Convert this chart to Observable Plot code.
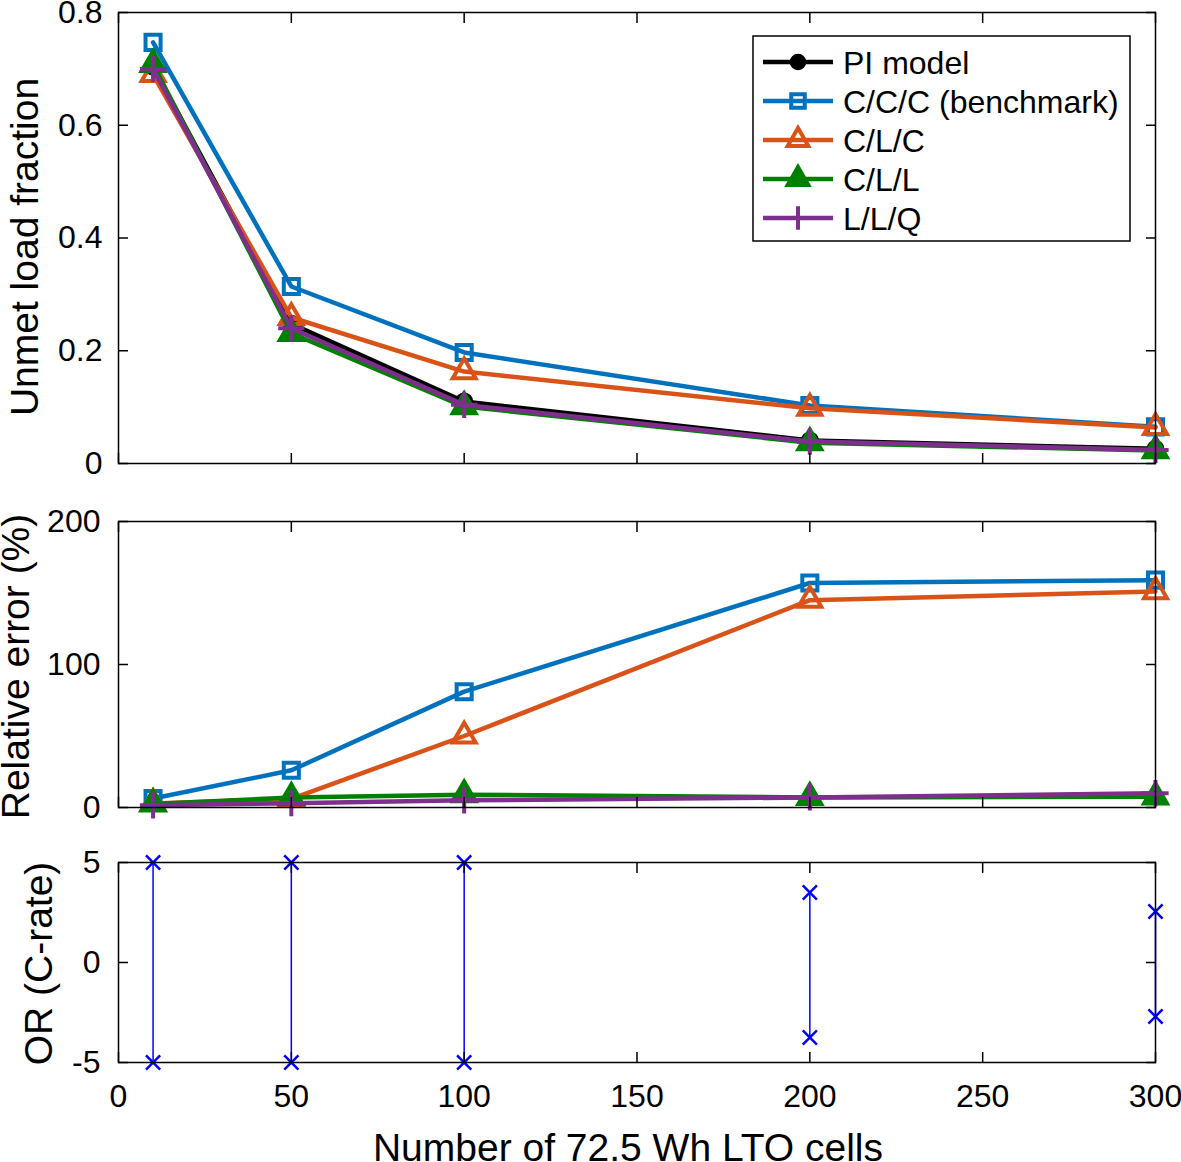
<!DOCTYPE html>
<html><head><meta charset="utf-8">
<script src="https://cdn.jsdelivr.net/npm/d3@7"></script>
<script src="https://cdn.jsdelivr.net/npm/@observablehq/plot@0.6"></script>
<style>
body{margin:0;background:#fff;font-family:"Liberation Sans",Arial,Helvetica,sans-serif;}
#wrap{position:relative;width:1181px;height:1162px;overflow:hidden;background:#fff;}
#wrap > svg{position:absolute;left:0;}
</style></head><body><div id="wrap"></div>
<script>
// ---- data ----
const cells = [10, 50, 100, 200, 300];
const seriesNames = ["PI model", "C/C/C (benchmark)", "C/L/C", "C/L/L", "L/L/Q"];
const unmetPI  = [0.704, 0.248, 0.110, 0.041, 0.026];
const unmetCCC = [0.747, 0.314, 0.197, 0.103, 0.065];
const unmetCLC = [0.690, 0.259, 0.163, 0.098, 0.064];
const unmetCLL = [0.708, 0.231, 0.101, 0.037, 0.023];
const unmetLLQ = [0.700, 0.240, 0.104, 0.039, 0.024];
const errCCC = [6.3, 26, 81, 157, 159];
const errCLC = [2.8, 6, 50, 145, 151];
const errCLL = [2.5, 7, 9, 7, 7.5];
const errLLQ = [1.5, 3, 5, 7, 10];
const orMax = [5, 5, 5, 3.5, 2.55];
const orMin = [-5, -5, -5, -3.75, -2.7];
const xTicks = [0, 50, 100, 150, 200, 250, 300];
const yTicks1 = [0, 0.2, 0.4, 0.6, 0.8];
const yTicks2 = [0, 100, 200];
const yTicks3 = [-5, 0, 5];
const xTitle = "Number of 72.5 Wh LTO cells";
const yTitles = ["Unmet load fraction", "Relative error (%)", "OR (C-rate)"];

// ---- styles ----
const styles = {
  "PI model":          {color: "#000000", symbol: "circle",   filled: true,  r: 7},
  "C/C/C (benchmark)": {color: "#0072BD", symbol: "square",   filled: false, r: 8.5},
  "C/L/C":             {color: "#D95319", symbol: "triangle", filled: false, r: 8.5},
  "C/L/L":             {color: "#008000", symbol: "triangle", filled: true,  r: 8.5},
  "L/L/Q":             {color: "#7E2F8E", symbol: "plus",     filled: false, r: 8.5}
};
const FONT = '"Liberation Sans", Arial, Helvetica, sans-serif';
const LW = 4.5;

function rows(ys) { return cells.map((x, i) => ({x, y: ys[i]})); }

function seriesMarks(name, ys) {
  const s = styles[name];
  const data = rows(ys);
  return [
    Plot.line(data, {x: "x", y: "y", stroke: s.color, strokeWidth: LW}),
    Plot.dot(data, {x: "x", y: "y", symbol: s.symbol, r: s.r,
      fill: s.filled ? s.color : "none",
      stroke: s.color, strokeWidth: 4})
  ];
}

function panel({height, marginTop, marginBottom, yDomain, yTicks, yLabel, labelOffset, labelDy, tickPadding, showX, marks}) {
  const fmt = d => String(d);
  const blank = () => "";
  return Plot.plot({
    width: 1181, height, marginLeft: 118, marginRight: 26, marginTop, marginBottom,
    style: {fontFamily: FONT, fontSize: "32px", color: "#000", background: "transparent", overflow: "visible"},
    x: {domain: [0, 300]},
    y: {domain: yDomain},
    marks: [
      ...marks,
      Plot.frame({stroke: "#000", strokeWidth: 1.5}),
      Plot.axisY(yTicks, {anchor: "left", tickSize: 0, tickPadding, tickFormat: fmt, fontSize: 32, label: null}),
      Plot.axisY(yTicks, {anchor: "left", tickSize: -10, tickFormat: blank, label: null, strokeWidth: 1.5}),
      Plot.axisY(yTicks, {anchor: "right", tickSize: -10, tickFormat: blank, label: null, strokeWidth: 1.5}),
      Plot.axisX(xTicks, {anchor: "top", tickSize: -10, tickFormat: blank, label: null, strokeWidth: 1.5}),
      Plot.axisX(xTicks, {anchor: "bottom", tickSize: -10, tickFormat: blank, label: null, strokeWidth: 1.5}),
      Plot.text([yLabel], {frameAnchor: "left", rotate: -90, dx: -labelOffset, dy: labelDy,
        textAnchor: "middle", lineAnchor: "top", fontSize: 39, fill: "#000"}),
      showX ? Plot.axisX(xTicks, {anchor: "bottom", tickSize: 0, tickPadding: 22, tickFormat: fmt, fontSize: 32, label: null}) : null,
      showX ? Plot.text([xTitle], {frameAnchor: "bottom", dy: 98, dx: -9, lineAnchor: "bottom",
        textAnchor: "middle", fontSize: 39, fill: "#000"}) : null
    ]
  });
}

const wrap = document.getElementById("wrap");

const p1 = panel({
  height: 480, marginTop: 12, marginBottom: 17, yDomain: [0, 0.8], yTicks: yTicks1,
  yLabel: yTitles[0], labelOffset: 108, labelDy: 9, tickPadding: 16, showX: false,
  marks: [
    ...seriesMarks("PI model", unmetPI),
    ...seriesMarks("C/C/C (benchmark)", unmetCCC),
    ...seriesMarks("C/L/C", unmetCLC),
    ...seriesMarks("C/L/L", unmetCLL),
    ...seriesMarks("L/L/Q", unmetLLQ)
  ]
});
p1.style.top = "0px";
wrap.appendChild(p1);

const p2 = panel({
  height: 340, marginTop: 41, marginBottom: 13, yDomain: [0, 200], yTicks: yTicks2,
  yLabel: yTitles[1], labelOffset: 117, labelDy: 2, tickPadding: 18, showX: false,
  marks: [
    ...seriesMarks("C/C/C (benchmark)", errCCC),
    ...seriesMarks("C/L/C", errCLC),
    ...seriesMarks("C/L/L", errCLL),
    ...seriesMarks("L/L/Q", errLLQ)
  ]
});
p2.style.top = "480px";
wrap.appendChild(p2);

const orRows = cells.map((x, i) => ({x, lo: orMin[i], hi: orMax[i]}));
const orPts = cells.flatMap((x, i) => [{x, y: orMax[i]}, {x, y: orMin[i]}]);
const p3 = panel({
  height: 342, marginTop: 42, marginBottom: 100, yDomain: [-5, 5], yTicks: yTicks3,
  yLabel: yTitles[2], labelOffset: 94, labelDy: 1, tickPadding: 18, showX: true,
  marks: [
    Plot.ruleX(orRows, {x: "x", y1: "lo", y2: "hi", stroke: "#0000FF", strokeWidth: 1.5}),
    Plot.dot(orPts, {x: "x", y: "y", symbol: "times", r: 6.5, stroke: "#0000FF", strokeWidth: 2.5})
  ]
});
p3.style.top = "820px";
wrap.appendChild(p3);

// ---- legend ----
const leg = d3.select(wrap).append("svg")
  .attr("width", 1181).attr("height", 300).style("top", "0px")
  .style("font-family", FONT).style("font-size", "32px");
leg.append("rect").attr("x", 753).attr("y", 36).attr("width", 377).attr("height", 205)
  .attr("fill", "#fff").attr("stroke", "#000").attr("stroke-width", 1.5);
const symMap = {circle: d3.symbolCircle, square: d3.symbolSquare, triangle: d3.symbolTriangle, plus: d3.symbolPlus};
seriesNames.forEach((name, i) => {
  const s = styles[name];
  const y = 62 + i * 39;
  const rr = s.r * 0.9;
  leg.append("line").attr("x1", 763).attr("x2", 833).attr("y1", y).attr("y2", y)
    .attr("stroke", s.color).attr("stroke-width", LW);
  leg.append("path")
    .attr("d", d3.symbol(symMap[s.symbol], Math.PI * rr * rr)())
    .attr("transform", `translate(798,${y})`)
    .attr("fill", s.filled ? s.color : "none")
    .attr("stroke", s.color).attr("stroke-width", 4);
  leg.append("text").attr("x", 843).attr("y", y).attr("dy", "0.36em").text(name);
});
</script>
</body></html>
